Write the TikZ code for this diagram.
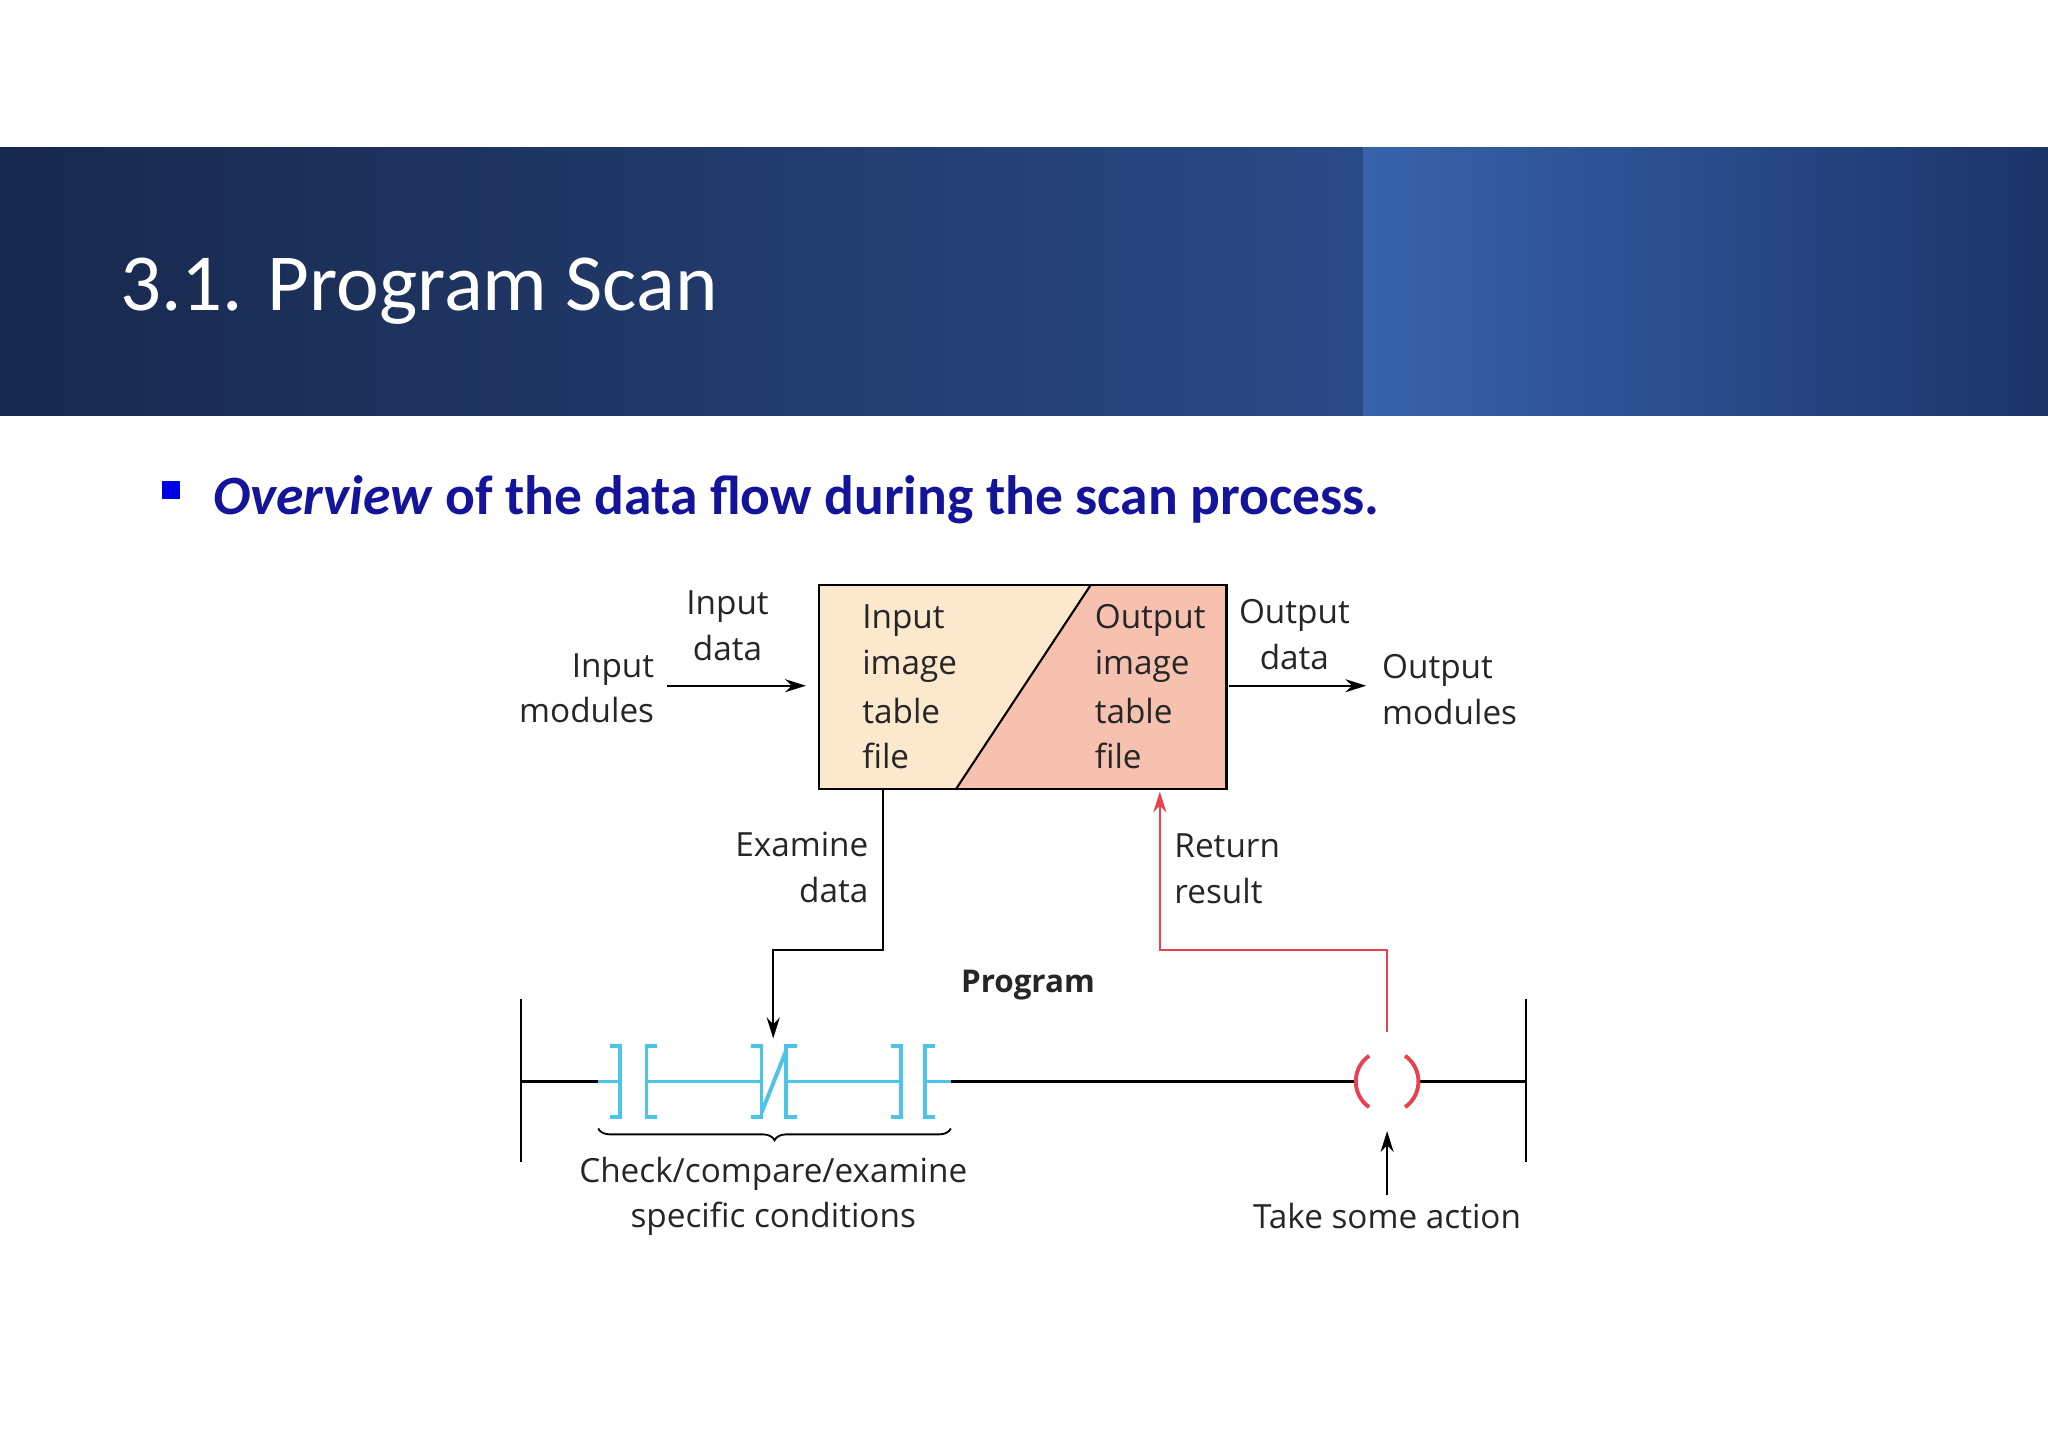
\documentclass[tikz,border=0pt]{standalone}
\usepackage{fontspec}
\setmainfont{Open Sans}
\newfontfamily\carlitofont{Carlito}
\usetikzlibrary{arrows.meta,decorations.pathreplacing}
\definecolor{navyA}{HTML}{18284C}
\definecolor{navyB}{HTML}{2A4A86}
\definecolor{navyC}{HTML}{3863AC}
\definecolor{navyD}{HTML}{1C3468}
\definecolor{bultxt}{HTML}{14149A}
\definecolor{fillL}{HTML}{FCE8CD}
\definecolor{fillR}{HTML}{F6C2AF}
\definecolor{cyanc}{HTML}{4CC4EA}
\definecolor{redc}{HTML}{E8414F}
\tikzset{
 lbl/.style={font=\fontsize{25.5}{35}\selectfont, inner sep=0pt, text=black!85},
 arr/.style={line width=1.6pt,-{Stealth[length=16pt,width=10pt]}},
 ln/.style={line width=1.6pt},
 cy/.style={line width=3pt,cyanc},
}
\begin{document}
\begin{tikzpicture}[x=1pt,y=-1pt]
\useasboundingbox (0,0) rectangle (1568,1108);
\fill[white] (0,0) rectangle (1568,1108);
\shade[left color=navyA,right color=navyB] (0,113) rectangle (1044,318);
\shade[left color=navyC,right color=navyD] (1044,113) rectangle (1568,318);
\node[anchor=base west,text=white,inner sep=0pt,font=\carlitofont\fontsize{62}{70}\selectfont] (title) at (92,238) {3.1. Program Scan};
\fill[blue!90!black] (124,368) rectangle (138,382) coordinate (bul);
\node[anchor=base west,text=bultxt,inner sep=0pt,font=\carlitofont\bfseries\fontsize{42.5}{48}\selectfont] (sub) at (163,394) {\textit{Overview} of the data flow during the scan process.};
% box
\fill[fillL] (627,448) -- (835,448) -- (732,604) -- (627,604) -- cycle;
\fill[fillR] (835,448) -- (939,448) -- (939,604) -- (732,604) -- cycle;
\draw[ln] (835,448) -- (732,604);
\node[draw,ln,minimum width=312pt,minimum height=156pt,inner sep=0pt] (box) at (783,526) {};
\foreach \t/\y in {Input/475,image/510,table/544,file/579}{\node[lbl,anchor=west] at (660,\y) {\t};}
\foreach \t/\y in {Output/475,image/510,table/544,file/579}{\node[lbl,anchor=west] at (838,\y) {\t};}
\node[lbl,align=center] (indata) at (557,479) {Input\\data};
\node[lbl,align=right,anchor=east] (inmod) at (501,527) {Input\\modules};
\draw[arr] (511,525) -- (617,525);
\node[lbl,align=center] (outdata) at (991,486) {Output\\data};
\node[lbl,align=left,anchor=west] (outmod) at (1058,528) {Output\\modules};
\draw[arr] (941,525) -- (1046,525);
% examine
\node[lbl,align=right,anchor=east] (exam) at (665,664) {Examine\\data};
\coordinate (ex1) at (676,604);
\coordinate (ex2) at (592,795);
\draw[arr] (ex1) -- (676,727) -- (592,727) -- (ex2);
\node[lbl,align=left,anchor=west] (ret) at (899,665) {Return\\result};
\coordinate (r1) at (1062,790);
\coordinate (r2) at (888,606);
\draw[line width=1.6pt,redc,-{Stealth[length=16pt,width=10pt]}] (r1) -- (1062,727) -- (888,727) -- (r2);
\node[lbl,font=\bfseries\fontsize{24}{28}\selectfont] (prog) at (787,754) {Program};
% rails
\draw[ln] (399,765) -- (399,890);
\draw[ln] (1168,765) -- (1168,890);
\draw[ln] (399,828) -- (458,828);
\draw[ln] (728,828) -- (1039,828);
\draw[ln] (1085,828) -- (1168,828);
\draw[cy] (458,828) -- (475,828) (495,828) -- (583,828) (602,828) -- (690,828) (708,828) -- (728,828);
\foreach \a/\b in {475/495,583/602,690/708}{
 \draw[cy] (\a-8,801) -- (\a,801) -- (\a,855) -- (\a-8,855);
 \draw[cy] (\b+8,801) -- (\b,801) -- (\b,855) -- (\b+8,855);
}
\draw[cy] (583,852) -- (602,804);
% coil
\draw[line width=3pt,redc] (1062,828) ++(125:24) arc (125:235:24);
\draw[line width=3pt,redc] (1062,828) ++(55:24) arc (55:-55:24);
% brace
\draw[line width=1.4pt,decorate,decoration={brace,mirror,amplitude=9pt}] (458,864) -- (728,864) coordinate (brr);
\node[lbl,align=center] (chk) at (592,916) {Check/compare/examine\\specific conditions};
\coordinate (t1) at (1062,915);
\draw[arr] (t1) -- (1062,866);
\node[lbl] (take) at (1062,931) {Take some action};
\end{tikzpicture}
\end{document}
